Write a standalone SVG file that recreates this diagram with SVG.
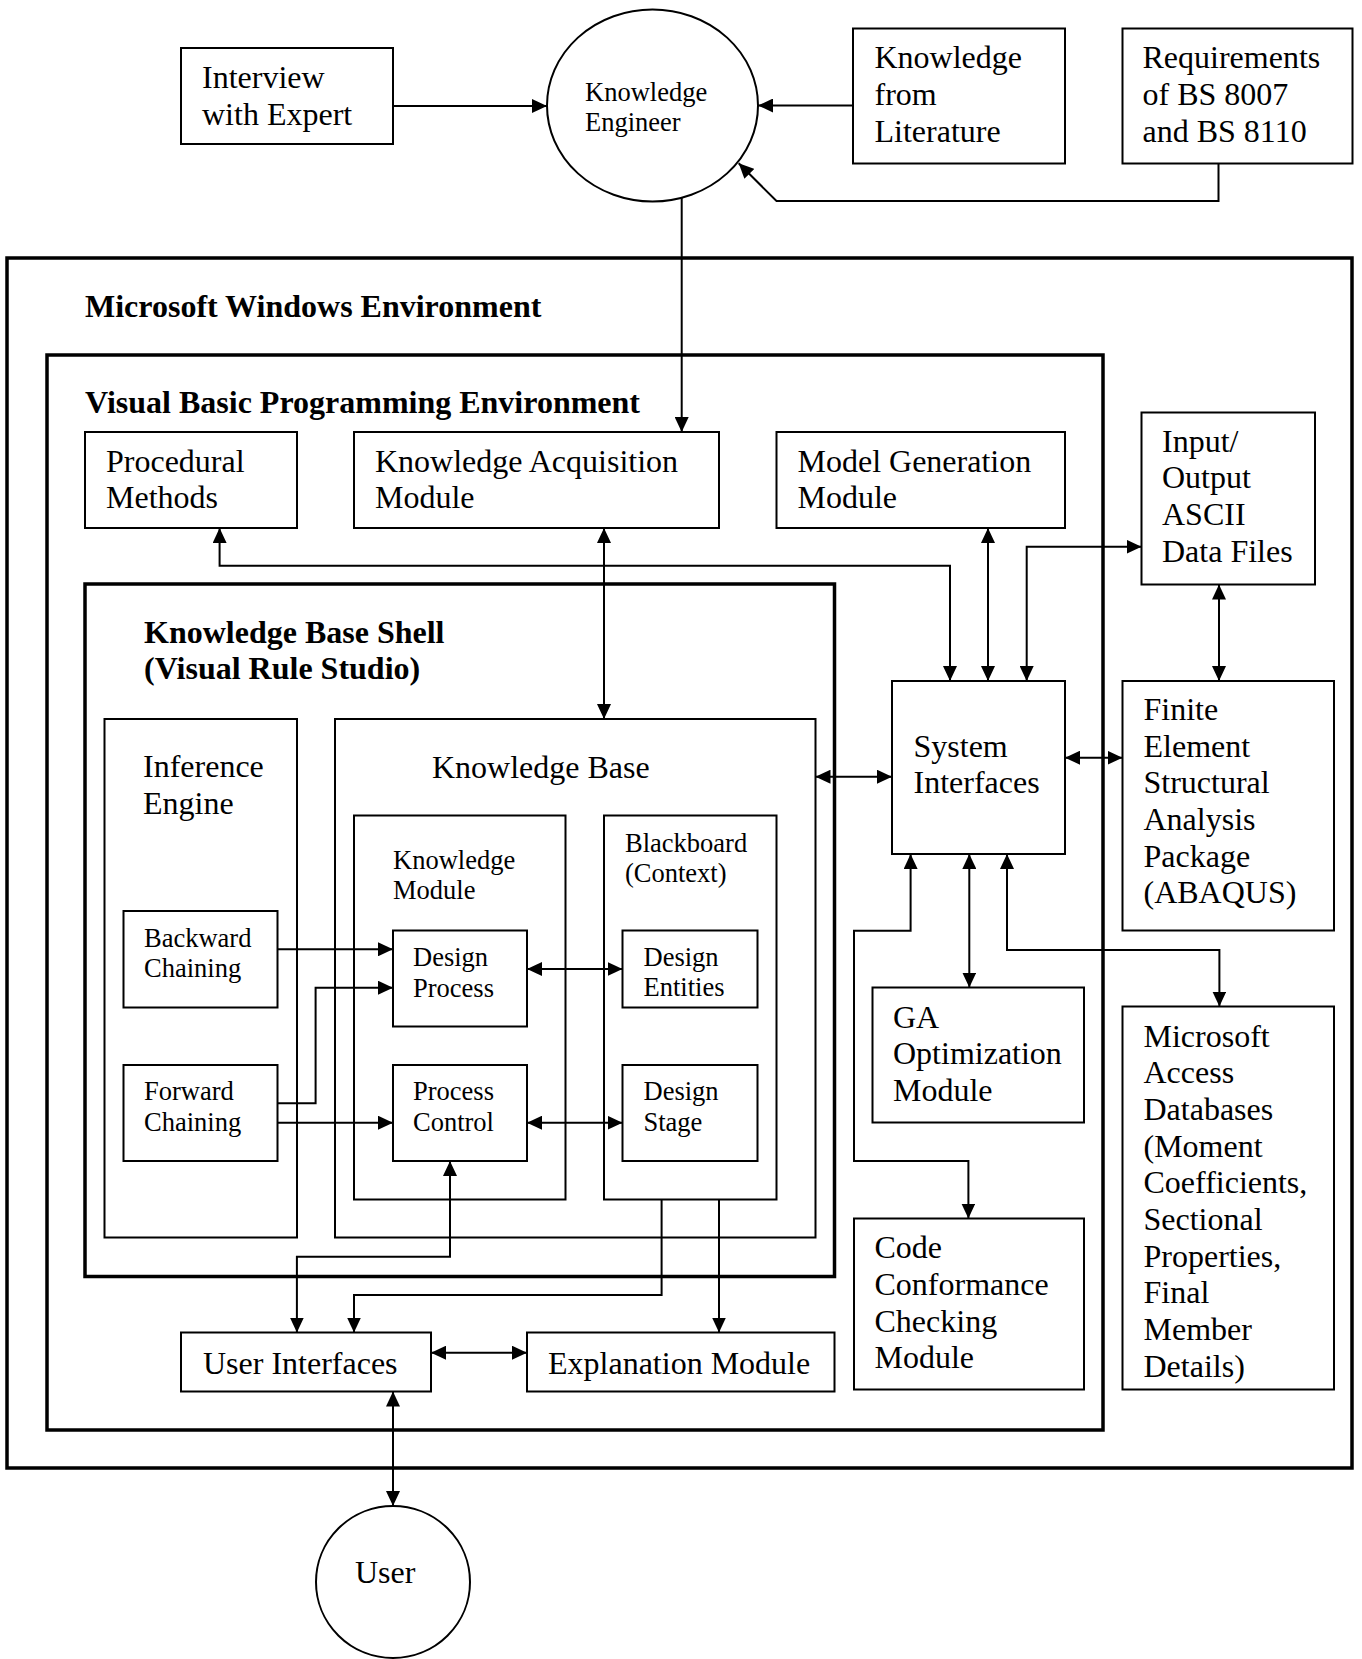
<svg xmlns="http://www.w3.org/2000/svg" width="1362" height="1659" viewBox="0 0 1362 1659">
<style>
.bx{fill:#fff;stroke:#000;stroke-width:2}
.ct{fill:none;stroke:#000;stroke-width:2}
.tk{fill:none;stroke:#000;stroke-width:3.5}
.t{font-family:"Liberation Serif","Times New Roman",serif;font-size:32px;fill:#000}
.s{font-size:26.5px}
.bd{font-weight:bold}
.cn{fill:none;stroke:#000;stroke-width:2}
</style>
<defs>
<marker id="ah" viewBox="0 0 15 14" refX="15" refY="7" markerWidth="15" markerHeight="14" markerUnits="userSpaceOnUse" orient="auto-start-reverse"><path d="M0,0 L15,7 L0,14 z" fill="#000"/></marker>
</defs>
<rect width="1362" height="1659" fill="#fff"/>

<g id="windows-env">
<rect class="tk" x="7" y="258" width="1345" height="1210"/>
<text class="t bd" x="85" y="317">Microsoft Windows Environment</text>
</g>
<g id="vb-env">
<rect class="tk" x="47" y="355" width="1056" height="1075"/>
<text class="t bd" x="85" y="413">Visual Basic Programming Environment</text>
</g>
<g id="kb-shell">
<rect class="tk" x="85" y="584" width="749.5" height="692.5"/>
<text class="t bd" x="144" y="643">Knowledge Base Shell</text>
<text class="t bd" x="144" y="679">(Visual Rule Studio)</text>
</g>

<g id="interview">
<rect class="bx" x="181" y="48" width="212" height="96"/>
<text class="t" x="202" y="88">Interview</text>
<text class="t" x="202" y="124.5">with Expert</text>
</g>
<g id="knowledge-engineer">
<ellipse class="bx" cx="652.5" cy="105.5" rx="105.5" ry="96"/>
<text class="t s" x="585" y="101">Knowledge</text>
<text class="t s" x="585" y="131">Engineer</text>
</g>
<g id="literature">
<rect class="bx" x="853" y="28.5" width="212" height="135"/>
<text class="t" x="874.5" y="68">Knowledge</text>
<text class="t" x="874.5" y="105">from</text>
<text class="t" x="874.5" y="141.5">Literature</text>
</g>
<g id="requirements">
<rect class="bx" x="1122.5" y="28.5" width="230" height="135"/>
<text class="t" x="1142.5" y="68">Requirements</text>
<text class="t" x="1142.5" y="105">of BS 8007</text>
<text class="t" x="1142.5" y="141.5">and BS 8110</text>
</g>

<g id="procedural">
<rect class="bx" x="85" y="432" width="212" height="96"/>
<text class="t" x="106" y="471.5">Procedural</text>
<text class="t" x="106" y="508">Methods</text>
</g>
<g id="ka-module">
<rect class="bx" x="354" y="432" width="365" height="96"/>
<text class="t" x="375" y="471.5">Knowledge Acquisition</text>
<text class="t" x="375" y="508">Module</text>
</g>
<g id="model-gen">
<rect class="bx" x="776.5" y="432" width="288.5" height="96"/>
<text class="t" x="797.5" y="471.5">Model Generation</text>
<text class="t" x="797.5" y="508">Module</text>
</g>
<g id="io-files">
<rect class="bx" x="1141.5" y="412.5" width="173.5" height="172"/>
<text class="t" x="1162" y="451.5">Input/</text>
<text class="t" x="1162" y="488">Output</text>
<text class="t" x="1162" y="525">ASCII</text>
<text class="t" x="1162" y="561.5">Data Files</text>
</g>

<g id="inference-engine">
<rect class="bx" x="104.5" y="719" width="192.5" height="518.5"/>
<text class="t" x="143" y="777">Inference</text>
<text class="t" x="143" y="814">Engine</text>
</g>
<g id="backward">
<rect class="bx" x="123.5" y="911" width="154" height="96.5"/>
<text class="t s" x="144" y="947">Backward</text>
<text class="t s" x="144" y="977">Chaining</text>
</g>
<g id="forward">
<rect class="bx" x="123.5" y="1065" width="154" height="96"/>
<text class="t s" x="144" y="1100">Forward</text>
<text class="t s" x="144" y="1130.5">Chaining</text>
</g>

<g id="knowledge-base">
<rect class="bx" x="335" y="719" width="480.5" height="518.5"/>
<text class="t" x="432" y="778">Knowledge Base</text>
</g>
<g id="knowledge-module">
<rect class="bx" x="354" y="815.5" width="211.5" height="384"/>
<text class="t s" x="393" y="869">Knowledge</text>
<text class="t s" x="393" y="899">Module</text>
</g>
<g id="blackboard">
<rect class="bx" x="604" y="815.5" width="172.5" height="384"/>
<text class="t s" x="625" y="852">Blackboard</text>
<text class="t s" x="625" y="882">(Context)</text>
</g>
<g id="design-process">
<rect class="bx" x="393" y="930.5" width="134" height="96"/>
<text class="t s" x="413" y="966">Design</text>
<text class="t s" x="413" y="996.5">Process</text>
</g>
<g id="process-control">
<rect class="bx" x="393" y="1065" width="134" height="96"/>
<text class="t s" x="413" y="1100">Process</text>
<text class="t s" x="413" y="1130.5">Control</text>
</g>
<g id="design-entities">
<rect class="bx" x="622.5" y="930.5" width="135" height="77"/>
<text class="t s" x="643.5" y="966">Design</text>
<text class="t s" x="643.5" y="995.5">Entities</text>
</g>
<g id="design-stage">
<rect class="bx" x="622.5" y="1065" width="135" height="96"/>
<text class="t s" x="643.5" y="1100">Design</text>
<text class="t s" x="643.5" y="1130.5">Stage</text>
</g>

<g id="system-interfaces">
<rect class="bx" x="892" y="681" width="173" height="173"/>
<text class="t" x="913.5" y="756.5">System</text>
<text class="t" x="913.5" y="793">Interfaces</text>
</g>
<g id="fe-package">
<rect class="bx" x="1122.5" y="681" width="211.5" height="249.5"/>
<text class="t" x="1143.5" y="720">Finite</text>
<text class="t" x="1143.5" y="756.5">Element</text>
<text class="t" x="1143.5" y="793">Structural</text>
<text class="t" x="1143.5" y="830">Analysis</text>
<text class="t" x="1143.5" y="866.5">Package</text>
<text class="t" x="1143.5" y="903">(ABAQUS)</text>
</g>
<g id="ga-module">
<rect class="bx" x="872.5" y="987.5" width="211.5" height="135"/>
<text class="t" x="893" y="1027.5">GA</text>
<text class="t" x="893" y="1064">Optimization</text>
<text class="t" x="893" y="1101">Module</text>
</g>
<g id="code-conformance">
<rect class="bx" x="854" y="1218.5" width="230" height="171"/>
<text class="t" x="874.5" y="1258">Code</text>
<text class="t" x="874.5" y="1295">Conformance</text>
<text class="t" x="874.5" y="1331.5">Checking</text>
<text class="t" x="874.5" y="1368">Module</text>
</g>
<g id="ms-access">
<rect class="bx" x="1122.5" y="1006.5" width="211.5" height="383"/>
<text class="t" x="1143.5" y="1046.5">Microsoft</text>
<text class="t" x="1143.5" y="1083">Access</text>
<text class="t" x="1143.5" y="1120">Databases</text>
<text class="t" x="1143.5" y="1156.5">(Moment</text>
<text class="t" x="1143.5" y="1193">Coefficients,</text>
<text class="t" x="1143.5" y="1230">Sectional</text>
<text class="t" x="1143.5" y="1266.5">Properties,</text>
<text class="t" x="1143.5" y="1303">Final</text>
<text class="t" x="1143.5" y="1340">Member</text>
<text class="t" x="1143.5" y="1376.5">Details)</text>
</g>

<g id="user-interfaces">
<rect class="bx" x="181" y="1332.5" width="250" height="59"/>
<text class="t" x="203" y="1374">User Interfaces</text>
</g>
<g id="explanation">
<rect class="bx" x="527" y="1332.5" width="307.5" height="59"/>
<text class="t" x="548" y="1374">Explanation Module</text>
</g>
<g id="user">
<ellipse class="bx" cx="393" cy="1582" rx="77" ry="76"/>
<text class="t" x="355" y="1583">User</text>
</g>

<g id="connectors" class="cn">
<line x1="393" y1="106" x2="547" y2="106" marker-end="url(#ah)"/>
<line x1="853" y1="105.5" x2="758" y2="105.5" marker-end="url(#ah)"/>
<polyline points="1218.5,163.5 1218.5,201 776.5,201 738.7,163.3" marker-end="url(#ah)"/>
<line x1="681.7" y1="198" x2="681.7" y2="432" marker-end="url(#ah)"/>
<polyline points="219.6,528 219.6,565.7 950,565.7 950,681" marker-start="url(#ah)" marker-end="url(#ah)"/>
<line x1="604" y1="528" x2="604" y2="719" marker-start="url(#ah)" marker-end="url(#ah)"/>
<line x1="988" y1="528" x2="988" y2="681" marker-start="url(#ah)" marker-end="url(#ah)"/>
<polyline points="1026.7,681 1026.7,546.7 1141.5,546.7" marker-start="url(#ah)" marker-end="url(#ah)"/>
<line x1="1219" y1="584.5" x2="1219" y2="681" marker-start="url(#ah)" marker-end="url(#ah)"/>
<line x1="815.5" y1="776.7" x2="892" y2="776.7" marker-start="url(#ah)" marker-end="url(#ah)"/>
<line x1="1065" y1="757.7" x2="1122.5" y2="757.7" marker-start="url(#ah)" marker-end="url(#ah)"/>
<polyline points="910.6,854 910.6,930.7 854,930.7 854,1161 968.4,1161 968.4,1218.5" marker-start="url(#ah)" marker-end="url(#ah)"/>
<line x1="969.3" y1="854" x2="969.3" y2="987.5" marker-start="url(#ah)" marker-end="url(#ah)"/>
<polyline points="1007,854 1007,950 1219.4,950 1219.4,1006.5" marker-start="url(#ah)" marker-end="url(#ah)"/>
<line x1="277.5" y1="949.3" x2="393" y2="949.3" marker-end="url(#ah)"/>
<polyline points="277.5,1103.3 315.6,1103.3 315.6,987.7 393,987.7" marker-end="url(#ah)"/>
<line x1="277.5" y1="1122.7" x2="393" y2="1122.7" marker-end="url(#ah)"/>
<line x1="527" y1="969" x2="622.5" y2="969" marker-start="url(#ah)" marker-end="url(#ah)"/>
<line x1="527" y1="1122.7" x2="622.5" y2="1122.7" marker-start="url(#ah)" marker-end="url(#ah)"/>
<polyline points="450,1161 450,1256.7 296.9,1256.7 296.9,1332.5" marker-start="url(#ah)" marker-end="url(#ah)"/>
<polyline points="661.6,1199.5 661.6,1295 354,1295 354,1332.5" marker-end="url(#ah)"/>
<line x1="719" y1="1199.5" x2="719" y2="1332.5" marker-end="url(#ah)"/>
<line x1="431" y1="1352.7" x2="527" y2="1352.7" marker-start="url(#ah)" marker-end="url(#ah)"/>
<line x1="393" y1="1391.5" x2="393" y2="1506" marker-start="url(#ah)" marker-end="url(#ah)"/>
</g>
</svg>
